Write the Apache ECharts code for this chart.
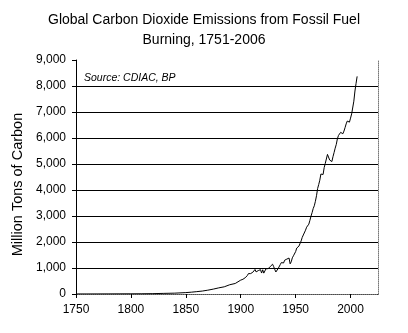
<!DOCTYPE html>
<html>
<head>
<meta charset="utf-8">
<script src="https://cdn.jsdelivr.net/npm/echarts@6/dist/echarts.min.js"></script>
<style>
html,body{margin:0;padding:0;background:#fff;}
#chart{width:408px;height:333px;}
</style>
</head>
<body>
<div id="chart"></div>
<script>
var titleText = 'Global Carbon Dioxide Emissions from Fossil Fuel\nBurning, 1751-2006';
var sourceText = 'Source: CDIAC, BP';
var yAxisName = 'Million Tons of Carbon';

var years = [
  1751, 1760, 1770, 1780, 1790, 1800, 1810, 1820, 1830, 1840,
  1850, 1855, 1860, 1865, 1870, 1875, 1880, 1885, 1890, 1895,
  1900, 1901, 1902, 1903, 1904, 1905, 1906, 1907, 1908, 1909,
  1910, 1911, 1912, 1913, 1914, 1915, 1916, 1917, 1918, 1919,
  1920, 1921, 1922, 1923, 1924, 1925, 1926, 1927, 1928, 1929,
  1930, 1931, 1932, 1933, 1934, 1935, 1936, 1937, 1938, 1939,
  1940, 1941, 1942, 1943, 1944, 1945, 1946, 1947, 1948, 1949,
  1950, 1951, 1952, 1953, 1954, 1955, 1956, 1957, 1958, 1959,
  1960, 1961, 1962, 1963, 1964, 1965, 1966, 1967, 1968, 1969,
  1970, 1971, 1972, 1973, 1974, 1975, 1976, 1977, 1978, 1979,
  1980, 1981, 1982, 1983, 1984, 1985, 1986, 1987, 1988, 1989,
  1990, 1991, 1992, 1993, 1994, 1995, 1996, 1997, 1998, 1999,
  2000, 2001, 2002, 2003, 2004, 2005, 2006
];

var emissions = [
  3, 3, 4, 5, 7, 8, 10, 14, 24, 33,
  54, 70, 91, 113, 147, 188, 236, 277, 356, 405,
  534, 552, 566, 617, 624, 663, 707, 784, 750, 785,
  819, 836, 879, 943, 850, 838, 901, 955, 936, 806,
  932, 803, 845, 970, 963, 975, 983, 1062, 1065, 1145,
  1053, 940, 847, 893, 973, 1027, 1130, 1209, 1142, 1192,
  1299, 1334, 1342, 1391, 1383, 1160, 1238, 1392, 1469, 1419,
  1630, 1767, 1795, 1841, 1865, 2042, 2177, 2270, 2330, 2454,
  2569, 2580, 2686, 2833, 2995, 3130, 3288, 3393, 3566, 3780,
  4053, 4208, 4376, 4614, 4623, 4596, 4864, 5026, 5087, 5369,
  5315, 5152, 5113, 5094, 5280, 5439, 5607, 5752, 5965, 6097,
  6127, 6217, 6164, 6162, 6266, 6398, 6542, 6651, 6643, 6610,
  6765, 6927, 6996, 7416, 7807, 8093, 8370
];

var xTickLabels = [1750, 1800, 1850, 1900, 1950, 2000];
var yTickLabels = [0, 1000, 2000, 3000, 4000, 5000, 6000, 7000, 8000, 9000];

var seriesData = years.map(function (y, i) { return [y, emissions[i]]; });

var FONT = '"Liberation Sans", Arial, sans-serif';
var chart = echarts.init(document.getElementById('chart'), null, {renderer: 'canvas'});

chart.setOption({
  animation: false,
  backgroundColor: '#fff',
  title: [{
    text: titleText,
    left: 'center',
    top: 10,
    padding: 0,
    textStyle: {fontFamily: FONT, fontSize: 14, fontWeight: 'normal', color: '#000', lineHeight: 20}
  }, {
    text: sourceText,
    left: 84,
    top: 73,
    padding: 0,
    textStyle: {fontFamily: FONT, fontSize: 10.5, fontStyle: 'italic', fontWeight: 'normal', color: '#000'}
  }],
  grid: {left: 76, right: 30, top: 60, bottom: 39, containLabel: false},
  xAxis: [{
    type: 'value',
    min: 1750,
    max: 2025,
    interval: 50,
    axisLine: {show: true, lineStyle: {color: '#000', width: 1}},
    axisTick: {show: true, length: 4, inside: false, customValues: xTickLabels, lineStyle: {color: '#000'}},
    axisLabel: {
      customValues: xTickLabels, margin: 10, fontFamily: FONT, fontSize: 12, color: '#000',
      formatter: function (v) { return String(v); }
    },
    splitLine: {show: false}
  }, {
    type: 'value',
    position: 'top',
    min: 1750,
    max: 2025,
    axisLine: {show: true, lineStyle: {color: '#777', width: 1, type: [1, 1]}},
    axisTick: {show: false},
    axisLabel: {show: false},
    splitLine: {show: false}
  }],
  yAxis: [{
    type: 'value',
    min: 0,
    max: 9000,
    interval: 1000,
    name: yAxisName,
    nameLocation: 'middle',
    nameGap: 48,
    nameRotate: 90,
    nameTextStyle: {fontFamily: FONT, fontSize: 14.5, color: '#000', padding: [0, 15, 0, 0]},
    axisLine: {show: true, lineStyle: {color: '#000', width: 1}},
    axisTick: {show: true, length: 4, inside: false, customValues: yTickLabels, lineStyle: {color: '#000'}},
    axisLabel: {
      customValues: yTickLabels,
      margin: 10,
      fontFamily: FONT, fontSize: 12, color: '#000',
      formatter: function (v) { return Number(v).toLocaleString('en-US'); }
    },
    splitLine: {show: true, showMinLine: false, showMaxLine: false, lineStyle: {color: '#000', width: 1}}
  }, {
    type: 'value',
    position: 'right',
    min: 0,
    max: 9000,
    axisLine: {show: true, lineStyle: {color: '#777', width: 1, type: [1, 1]}},
    axisTick: {show: false},
    axisLabel: {show: false},
    splitLine: {show: false}
  }],
  series: [{
    type: 'line',
    xAxisIndex: 0,
    yAxisIndex: 0,
    data: seriesData,
    showSymbol: false,
    symbol: 'none',
    lineStyle: {color: '#000', width: 1},
    itemStyle: {color: '#000'},
    z: 5
  }]
});
</script>
</body>
</html>
